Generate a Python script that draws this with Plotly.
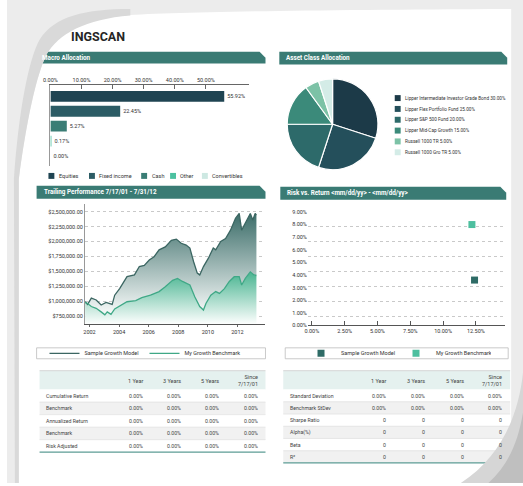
import plotly.graph_objects as go

W, H = 523, 486


def X(px):
    return px / W


def Y(py):
    return 1 - py / H


def path(cmds):
    out = []
    for c in cmds:
        op, pts = c[0], c[1:]
        coords = []
        for i in range(0, len(pts), 2):
            coords.append(f"{X(pts[i]):.5f},{Y(pts[i + 1]):.5f}")
        out.append(op + " " + " ".join(coords))
    return " ".join(out) + " Z"


# ---------------- data ----------------
alloc_categories = ["Equities", "Fixed income", "Cash", "Other", "Convertibles"]
alloc_values = [55.92, 22.45, 5.27, 0.17, 0.00]
alloc_colors = ["#1f4452", "#2c5c65", "#3a7d75", "#4cc1a0", "#cde8e2"]
alloc_ticks = [0, 10, 20, 30, 40, 50]

pie_labels = ["Lipper Intermediate Investor Grade Bond", "Lipper Flex Portfolio Fund",
              "Lipper S&P 500 Fund", "Lipper Mid-Cap Growth", "Russell 1000 TR",
              "Russell 1000 Gro TR"]
pie_values = [30, 25, 20, 15, 5, 5]
pie_colors = ["#1c3a48", "#244f5b", "#2d6a6a", "#3b8a7a", "#7cc2a6", "#d4ece7"]

model_dates = ["2001-09-15", "2001-11-15", "2002-02-15", "2002-06-15", "2002-10-15",
               "2003-02-15", "2003-07-15", "2003-09-15", "2004-01-15", "2004-07-15",
               "2005-01-15", "2005-05-15", "2005-09-15", "2006-01-15", "2006-05-15",
               "2006-09-15", "2007-02-15", "2007-07-15", "2007-11-15", "2008-03-15",
               "2008-07-15", "2008-10-15", "2009-01-15", "2009-04-15", "2009-06-15",
               "2009-09-15", "2010-01-15", "2010-05-15", "2010-07-15", "2010-11-15",
               "2011-03-15", "2011-07-15", "2011-11-15", "2012-02-15", "2012-04-15",
               "2012-06-15", "2012-09-15", "2012-11-15", "2013-01-15", "2013-03-15",
               "2013-04-15"]
model_values = [990000, 945000, 1050000, 1020000, 935000,
                980000, 945000, 1100000, 1210000, 1410000,
                1440000, 1580000, 1600000, 1690000, 1745000,
                1860000, 1910000, 2020000, 2040000, 1970000,
                1940000, 1890000, 1660000, 1470000, 1440000,
                1580000, 1720000, 1890000, 1860000, 2000000,
                2050000, 2190000, 2390000, 2470000, 2190000,
                2270000, 2390000, 2470000, 2360000, 2470000,
                2440000]

bench_dates = ["2001-09-15", "2001-11-15", "2002-02-15", "2002-06-15", "2002-10-15",
               "2003-01-15", "2003-03-15", "2003-06-15", "2003-09-15", "2004-03-15",
               "2004-07-15", "2005-02-15", "2005-07-15", "2006-02-15", "2006-09-15",
               "2007-02-15", "2007-08-15", "2007-12-15", "2008-04-15", "2008-10-15",
               "2009-02-15", "2009-06-15", "2009-09-15", "2009-11-15", "2010-03-15",
               "2010-07-15", "2010-10-15", "2011-02-15", "2011-06-15", "2011-10-15",
               "2012-02-15", "2012-04-15", "2012-07-15", "2012-11-15", "2013-02-15",
               "2013-04-15"]
bench_values = [980000, 960000, 910000, 880000, 820000,
                770000, 820000, 780000, 870000, 935000,
                990000, 1010000, 1060000, 1100000, 1160000,
                1240000, 1350000, 1380000, 1330000, 1270000,
                1070000, 910000, 850000, 960000, 1100000,
                1160000, 1130000, 1210000, 1330000, 1410000,
                1410000, 1270000, 1380000, 1490000, 1440000,
                1430000]
perf_ticks = [750000, 1000000, 1250000, 1500000, 1750000, 2000000, 2250000, 2500000]

risk_names = ["Sample Growth Model", "My Growth Benchmark"]
risk_std = [12.4, 12.2]
risk_return = [3.6, 8.0]
risk_colors = ["#2e6b66", "#4dbf9f"]
risk_x_ticks = [0, 2.5, 5, 7.5, 10, 12.5]
risk_y_ticks = [0, 1, 2, 3, 4, 5, 6, 7, 8, 9]

perf_rows = ["Cumulative Return", "Benchmark", "Annualized Return", "Benchmark", "Risk Adjusted"]
perf_periods = ["1 Year", "3 Years", "5 Years", "Since<br>7/17/01"]
perf_values = [[0.00, 0.00, 0.00, 0.00]] * 5

risk_rows = ["Standard Deviation", "Benchmark StDev", "Sharpe Ratio", "Alpha(%)", "Beta", "R²"]
risk_stat_values = [["0.00%"] * 4, ["0.00%"] * 4, ["0"] * 4, ["0"] * 4, ["0"] * 4, ["0"] * 4]

# ---------------- styling ----------------
TEAL = "#3a7b74"
FONT = "Roboto"
TXT = "#333333"
SMALL = 5.5
HEAD_FILL = "#e5f1ef"

fig = go.Figure()

# Macro allocation bars
for i, (cat, val, col) in enumerate(zip(alloc_categories, alloc_values, alloc_colors)):
    fig.add_trace(go.Bar(x=[val], y=[i], orientation="h", width=0.73,
                         marker=dict(color=col, line=dict(width=0)),
                         text=[f"{val:.2f}%"], textposition="outside",
                         textfont=dict(size=SMALL, color=TXT), cliponaxis=False,
                         showlegend=False, xaxis="x", yaxis="y", name=cat))

# Asset class pie
fig.add_trace(go.Pie(values=pie_values, labels=pie_labels, sort=False,
                     direction="clockwise", rotation=0, textinfo="none",
                     marker=dict(colors=pie_colors, line=dict(color="white", width=1.2)),
                     showlegend=False,
                     domain=dict(x=[X(284), X(376)], y=[Y(171), Y(79)])))

# Trailing performance (areas then lines)
fig.add_trace(go.Scatter(x=bench_dates, y=bench_values, mode="lines", line=dict(width=0),
                         fill="tozeroy",
                         fillgradient=dict(type="vertical", start=620000, stop=1450000,
                                           colorscale=[[0, "rgba(255,255,255,1)"], [1, "#52b896"]]),
                         showlegend=False, hoverinfo="skip", xaxis="x2", yaxis="y2"))
fig.add_trace(go.Scatter(x=model_dates, y=model_values, mode="lines", line=dict(width=0),
                         fill="tonexty",
                         fillgradient=dict(type="vertical", start=850000, stop=2450000,
                                           colorscale=[[0, "#f2f6f5"], [1, "#3e6f6b"]]),
                         showlegend=False, hoverinfo="skip", xaxis="x2", yaxis="y2"))
fig.add_trace(go.Scatter(x=model_dates, y=model_values, mode="lines", name="Sample Growth Model",
                         line=dict(color="#3b6662", width=1.3), xaxis="x2", yaxis="y2",
                         legend="legend"))
fig.add_trace(go.Scatter(x=bench_dates, y=bench_values, mode="lines", name="My Growth Benchmark",
                         line=dict(color="#3fa886", width=1.3), xaxis="x2", yaxis="y2",
                         legend="legend"))

# Risk vs return
fig.add_trace(go.Scatter(x=[None], y=[None], mode="markers", showlegend=False,
                         xaxis="x3", yaxis="y4", hoverinfo="skip"))
for name, sx, sy, col in zip(risk_names, risk_std, risk_return, risk_colors):
    fig.add_trace(go.Scatter(x=[sx], y=[sy], mode="markers", name=name,
                             marker=dict(symbol="square", size=7, color=col),
                             xaxis="x3", yaxis="y3", legend="legend2", cliponaxis=False))

shapes = []
annotations = []

# Tables (rows as shapes, cell text as annotations)
TABLE_TOP, HEAD_H = 373, 19
tables = [
    dict(x0=33, x1=262, label_x=37, col_right=[140, 178, 217, 256], rows=perf_rows,
         cells=[[f"{v:.2f}%" for v in row] for row in perf_values], row_h=12.6),
    dict(x0=280, x1=510, label_x=285, col_right=[386, 426, 465, 504], rows=risk_rows,
         cells=risk_stat_values, row_h=12.3),
]
for t in tables:
    x0, x1 = t["x0"], t["x1"]
    body_top = TABLE_TOP + HEAD_H
    shapes.append(dict(type="rect", xref="paper", yref="paper", x0=X(x0), x1=X(x1),
                       y0=Y(body_top), y1=Y(TABLE_TOP), fillcolor=HEAD_FILL, line=dict(width=0)))
    shapes.append(dict(type="line", xref="paper", yref="paper", x0=X(x0), x1=X(x1),
                       y0=Y(TABLE_TOP), y1=Y(TABLE_TOP), line=dict(color="#d6d6d6", width=1)))
    for k, period in enumerate(perf_periods):
        annotations.append(dict(x=X(t["col_right"][k]), y=Y(TABLE_TOP + HEAD_H / 2 + 0.5),
                                xref="paper", yref="paper", xanchor="right", yanchor="middle",
                                align="right", showarrow=False, text=period,
                                font=dict(family=FONT, size=SMALL, color="#444")))
    for r, (lab, vals) in enumerate(zip(t["rows"], t["cells"])):
        ry0 = body_top + r * t["row_h"]
        ry1 = ry0 + t["row_h"]
        shapes.append(dict(type="rect", xref="paper", yref="paper", x0=X(x0), x1=X(x1),
                           y0=Y(ry1), y1=Y(ry0),
                           fillcolor="#ffffff" if r % 2 == 0 else "#f1f1f1", line=dict(width=0)))
        if r > 0:
            shapes.append(dict(type="line", xref="paper", yref="paper", x0=X(x0), x1=X(x1),
                               y0=Y(ry0), y1=Y(ry0), line=dict(color="#dedede", width=0.7)))
        cy = (ry0 + ry1) / 2
        annotations.append(dict(x=X(t["label_x"]), y=Y(cy), xref="paper", yref="paper",
                                xanchor="left", yanchor="middle", showarrow=False, text=lab,
                                font=dict(family=FONT, size=5.2, color="#444")))
        for k, v in enumerate(vals):
            annotations.append(dict(x=X(t["col_right"][k]), y=Y(cy), xref="paper", yref="paper",
                                    xanchor="right", yanchor="middle", showarrow=False, text=v,
                                    font=dict(family=FONT, size=5.2, color="#444")))
    bottom = body_top + len(t["rows"]) * t["row_h"]
    shapes.append(dict(type="line", xref="paper", yref="paper", x0=X(x0), x1=X(x1),
                       y0=Y(bottom), y1=Y(bottom), line=dict(color="#5d9c95", width=1.2)))

# header bars
headers = [
    (28, 52, 262, 64, "Macro Allocation"),
    (276, 52, 507, 65, "Asset Class Allocation"),
    (30, 187, 262, 200, "Trailing Performance 7/17/01 - 7/31/12"),
    (277, 188, 506, 201, "Risk vs. Return &lt;mm/dd/yy&gt; - &lt;mm/dd/yy&gt;"),
]
for x0, y0, x1, y1, label in headers:
    shapes.append(dict(type="path", xref="paper", yref="paper", layer="above",
                       path=path([("M", x0, y0), ("L", x1 - 6, y0), ("L", x1, y0 + 6),
                                  ("L", x1, y1), ("L", x0, y1)]),
                       fillcolor=TEAL, line=dict(width=0)))
    annotations.append(dict(x=X(x0 + 5), y=Y((y0 + y1) / 2), xref="paper", yref="paper",
                            xanchor="left", yanchor="middle", showarrow=False,
                            text=f"<b>{label}</b>", font=dict(family=FONT, size=6.3, color="white")))

# bar legend (manual)
lx = 42
for cat, col in zip(alloc_categories, alloc_colors):
    shapes.append(dict(type="rect", xref="paper", yref="paper", x0=X(lx), x1=X(lx + 6),
                       y0=Y(180), y1=Y(174), fillcolor=col, line=dict(width=0)))
    annotations.append(dict(x=X(lx + 8.5), y=Y(177), xref="paper", yref="paper",
                            xanchor="left", yanchor="middle", showarrow=False,
                            text=cat, font=dict(family=FONT, size=SMALL, color=TXT)))
    lx += 8.5 + len(cat) * 2.95 + 9

# pie legend (manual)
for i, (lab, val, col) in enumerate(zip(pie_labels, pie_values, pie_colors)):
    cy = 98.7 + i * 10.9
    shapes.append(dict(type="rect", xref="paper", yref="paper", x0=X(393), x1=X(399),
                       y0=Y(cy + 3), y1=Y(cy - 3), fillcolor=col, line=dict(width=0)))
    annotations.append(dict(x=X(401.5), y=Y(cy), xref="paper", yref="paper",
                            xanchor="left", yanchor="middle", showarrow=False,
                            text=f"{lab.replace('&', '&amp;')} {val:.2f}%",
                            font=dict(family=FONT, size=4.7, color=TXT)))

# legend boxes
for x0, x1 in [(30, 262), (282, 508)]:
    shapes.append(dict(type="rect", xref="paper", yref="paper", x0=X(x0), x1=X(x1),
                       y0=Y(361), y1=Y(350), line=dict(color="#bdbdbd", width=0.8)))

# page edges / curls
shapes.append(dict(type="rect", xref="paper", yref="paper", layer="above", x0=X(511), x1=X(523),
                   y0=Y(486), y1=Y(0), fillcolor="#ececec", line=dict(width=0)))
shapes.append(dict(type="path", xref="paper", yref="paper", layer="above",
                   path=path([("M", 0, 0), ("L", 523, 0), ("L", 523, 9),
                              ("C", 300, 10, 160, 12, 115, 16),
                              ("C", 75, 20, 50, 35, 40, 55),
                              ("C", 30, 75, 20, 120, 12, 180),
                              ("L", 12, 486), ("L", 0, 486)]),
                   fillcolor="#ececec", line=dict(width=0)))
shapes.append(dict(type="path", xref="paper", yref="paper", layer="above",
                   path=path([("M", 125, 15.5), ("C", 80, 19, 52, 34, 40, 55),
                              ("C", 30, 75, 20, 120, 12, 180), ("L", 12, 486), ("L", 8, 486),
                              ("L", 7, 180), ("C", 12, 110, 22, 60, 33, 40),
                              ("C", 48, 16, 80, 9, 125, 9)]),
                   fillcolor="#d9d9d9", line=dict(width=0)))
shapes.append(dict(type="path", xref="paper", yref="paper", layer="above",
                   path=path([("M", 523, 375), ("C", 518, 420, 500, 460, 460, 486),
                              ("L", 523, 486)]),
                   fillcolor="#d6d6d6", line=dict(width=0)))
shapes.append(dict(type="path", xref="paper", yref="paper", layer="above",
                   path=path([("M", 523, 415), ("C", 518, 445, 508, 468, 488, 486),
                              ("L", 523, 486)]),
                   fillcolor="#bfbfbf", line=dict(width=0)))

# title
annotations.append(dict(x=X(63), y=Y(37), xref="paper", yref="paper", xanchor="left",
                        yanchor="middle", showarrow=False, text="<b>INGSCAN</b>",
                        font=dict(family=FONT, size=12.5, color="#262626")))

axis_font = dict(family=FONT, size=SMALL, color=TXT)

fig.update_layout(
    width=W, height=H, margin=dict(l=0, r=0, t=0, b=0),
    paper_bgcolor="white", plot_bgcolor="rgba(0,0,0,0)",
    font=dict(family=FONT, size=SMALL, color=TXT),
    barmode="overlay", showlegend=True,
    xaxis=dict(domain=[X(44), X(245)], range=[0, 63.8], side="top", anchor="y",
               tickmode="array", tickvals=alloc_ticks,
               ticktext=[f"{v:.2f}%" for v in alloc_ticks],
               showline=True, linecolor="#666", linewidth=1, ticks="inside", ticklen=4,
               tickcolor="#666", showgrid=False, zeroline=False, tickfont=axis_font),
    yaxis=dict(domain=[Y(167), Y(86)], range=[4.67, -0.73], anchor="x",
               showticklabels=False, showline=True, linecolor="#999", linewidth=1,
               showgrid=False, zeroline=False, ticks=""),
    xaxis2=dict(domain=[X(79), X(262)], type="date", range=["2001-09-10", "2013-11-25"],
                anchor="y2", dtick="M24", tick0="2002-01-01", tickformat="%Y",
                ticks="outside", ticklen=2, tickcolor="#666", showline=True,
                linecolor="#555", linewidth=1, showgrid=False, zeroline=False,
                tickfont=axis_font),
    yaxis2=dict(domain=[Y(326), Y(205)], range=[617000, 2633000], anchor="x2",
                tickmode="array", tickvals=perf_ticks,
                ticktext=[f"${v:,.2f}" for v in perf_ticks],
                showgrid=True, gridcolor="#c9c9c9", griddash="dot",
                gridwidth=0.8, showline=True, linecolor="#999", linewidth=1,
                zeroline=False, tickfont=axis_font, ticks=""),
    xaxis3=dict(domain=[X(305), X(505)], range=[-0.3, 14.74], anchor="y3",
                tickmode="array", tickvals=risk_x_ticks,
                ticktext=[f"{v:.2f}%" for v in risk_x_ticks],
                showline=True, linecolor="#555", linewidth=1, ticks="inside", ticklen=4,
                tickcolor="#555", showgrid=False, zeroline=False, tickfont=axis_font),
    yaxis3=dict(domain=[Y(327.5), Y(205)], range=[0, 9.65], anchor="x3",
                tickmode="array", tickvals=risk_y_ticks,
                ticktext=[f"{v:.2f}%" for v in risk_y_ticks],
                showgrid=False, zeroline=False, showline=False, ticks="",
                tickfont=axis_font),
    yaxis4=dict(overlaying="y3", anchor="x3", range=[-0.633, 7.53],
                tickmode="array", tickvals=list(range(7)), showticklabels=False, showgrid=True,
                gridcolor="#c9c9c9", griddash="dot", gridwidth=0.8, zeroline=False,
                showline=False, ticks=""),
    legend=dict(orientation="h", x=X(38), y=Y(355.5), xanchor="left", yanchor="middle",
                font=dict(family=FONT, size=SMALL, color=TXT), bgcolor="rgba(0,0,0,0)",
                entrywidth=55, itemwidth=30, tracegroupgap=0, traceorder="normal"),
    legend2=dict(orientation="h", x=X(298), y=Y(355.5), xanchor="left", yanchor="middle",
                 font=dict(family=FONT, size=SMALL, color=TXT), bgcolor="rgba(0,0,0,0)",
                 entrywidth=50, itemwidth=30, tracegroupgap=0, traceorder="normal"),
    shapes=shapes, annotations=annotations,
)

fig.write_html("out.html", config={"displayModeBar": False},
               post_script="document.body.style.margin='0';document.body.style.padding='0';"
                           "document.body.style.overflow='hidden';")
